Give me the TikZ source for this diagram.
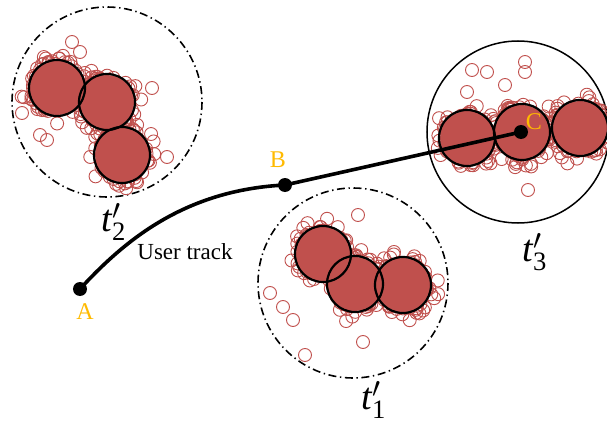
\documentclass[tikz,border=0pt]{standalone}
\usepackage{fontspec}
\setmainfont{Liberation Serif}
\definecolor{clred}{HTML}{C0504D}
\definecolor{lblorange}{HTML}{FFBA00}
\tikzset{
  region/.style={line width=0.8pt, dash pattern=on 4pt off 1.8pt on 0.7pt off 1.8pt},
  cell/.style={draw=black, line width=1.1pt},
  scat/.style={draw=clred, line width=0.45pt},
  blob/.style={fill=clred},
  pt/.style={circle, fill=black, inner sep=0pt, minimum size=7pt},
  ptlabel/.style={text=lblorange, font=\fontsize{12}{14}\selectfont},
  tlabel/.style={font=\fontsize{19}{22}\selectfont},
}
\begin{document}
\begin{tikzpicture}[x=0.5pt,y=-0.5pt]
\useasboundingbox (0,0) rectangle (607,423);
% regions
\draw[region] (107,102) circle (95);
\draw[region] (353,283) circle (95);
\draw[line width=0.75pt] (518,132) circle (91);
% point clouds
\foreach \x/\y/\s in {57/88/3, 107/102/5, 122/155/8,
                      323/254/11, 355/284/13, 403/285/17,
                      467/138/19, 522/132/23, 580/128/29}{
  \fill[blob] (\x,\y) circle (27);
  \pgfmathsetseed{\s}
  \foreach \i in {1,...,110}{
    \pgfmathsetmacro\ang{360*rnd}
    \pgfmathsetmacro\rad{18+22*rnd*rnd}
    \draw[scat] (\x,\y) ++(\ang:\rad) circle (6.5);
  }
}
% outliers
\foreach \x/\y in {22/113, 40/135, 47/140, 72/42, 80/52, 167/157, 152/88,
                   270/293, 283/307, 293/320, 305/355, 363/342, 358/215,
                   472/70, 487/72, 525/62, 525/72, 528/190, 467/92, 505/85}
  \draw[scat] (\x,\y) circle (6.5);
% cells
\foreach \x/\y in {57/88, 107/102, 122/155,
                   323/254, 355/284, 403/285,
                   467/138, 522/132, 580/128}
  \draw[cell] (\x,\y) circle (28);
% user track
\node[pt] (A) at (80,289) {};
\node[pt] (B) at (285,185) {};
\node[pt] (C) at (521,132) {};
\draw[line width=1.8pt] (A.center) .. controls (125,240) and (185,190) .. (B.center) -- (C.center);
% labels
\node[ptlabel] (lA) at (85,312) {A};
\node[ptlabel] (lB) at (278,160) {B};
\node[ptlabel] (lC) at (534,122) {C};
\node[font=\fontsize{11.5}{14}\selectfont] (track) at (185,252) {User track};
\node[tlabel] (t2) at (114,222) {$\mathit{t}_{\mathrm{2}}'$};
\node[tlabel] (t1) at (374,400) {$\mathit{t}_{\mathrm{1}}'$};
\node[tlabel] (t3) at (535,252) {$\mathit{t}_{\mathrm{3}}'$};
\end{tikzpicture}
\end{document}
